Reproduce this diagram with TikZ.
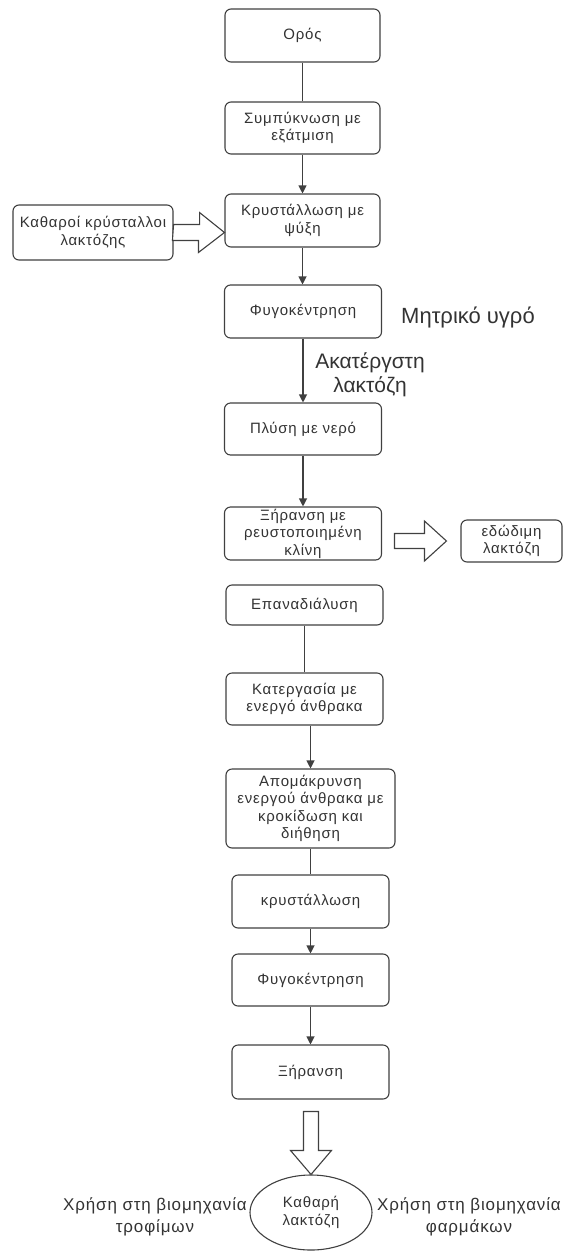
\documentclass[tikz,border=0pt]{standalone}
\usepackage{fontspec}
\setmainfont{Liberation Sans}
\newfontfamily\boxfont[LetterSpace=5]{Liberation Sans}
\usetikzlibrary{arrows.meta,calc,shapes.geometric}
\begin{document}
\begin{tikzpicture}[x=1pt,y=-1pt,
  every node/.style={text=black!80},
  stepbox/.style={draw=black!75, line width=1.1pt, rounded corners=6pt, fill=white,
    align=center, inner sep=0pt, font=\boxfont\fontsize{15}{17.5}\selectfont},
  ovalbox/.style={ellipse, draw=black!75, line width=1.1pt, fill=white,
    align=center, inner sep=0pt, font=\boxfont\fontsize{15}{17.5}\selectfont},
  lbl/.style={align=center, inner sep=0pt},
  conn/.style={draw=black!75, line width=1.1pt},
  arr/.style={conn, -{Triangle[width=8pt,length=8pt]}},
  blockarrow/.style={draw=black!75, line width=1.1pt, fill=white, line join=miter}
]
\useasboundingbox (0,0) rectangle (563,1251);

% main column
\node[stepbox, minimum width=155, minimum height=53] (oros)   at (302.5,35.5) {Ορός};
\node[stepbox, minimum width=155, minimum height=52] (symp)   at (302.5,128)  {Συμπύκνωση με\\εξάτμιση};
\node[stepbox, minimum width=155, minimum height=53] (kryst)  at (302.5,220.5) {Κρυστάλλωση με\\ψύξη};
\node[stepbox, minimum width=160, minimum height=55] (kath)   at (93,232.5)   {Καθαροί κρύσταλλοι\\λακτόζης};
\node[stepbox, minimum width=157, minimum height=53] (fyg)    at (303,311.5)  {Φυγοκέντρηση};
\node[stepbox, minimum width=157, minimum height=52] (plysi)  at (303,429)    {Πλύση με νερό};
\node[stepbox, minimum width=157, minimum height=53] (xirfl)  at (303,533.5)  {Ξήρανση με\\ρευστοποιημένη\\κλίνη};
\node[stepbox, minimum width=101, minimum height=42] (edod)   at (511.5,541)  {εδώδιμη\\λακτόζη};
\node[stepbox, minimum width=157, minimum height=40] (epan)   at (304.5,605)  {Επαναδιάλυση};
\node[stepbox, minimum width=157, minimum height=52] (kater)  at (304.5,699)  {Κατεργασία με\\ενεργό άνθρακα};
\node[stepbox, minimum width=169, minimum height=79] (apom)   at (310.5,808.5) {Απομάκρυνση\\ενεργού άνθρακα με\\κροκίδωση και\\διήθηση};
\node[stepbox, minimum width=157, minimum height=53] (kryst2) at (310.5,901.5) {κρυστάλλωση};
\node[stepbox, minimum width=157, minimum height=52] (fyg2)   at (310.5,980)  {Φυγοκέντρηση};
\node[stepbox, minimum width=157, minimum height=54] (xir2)   at (310.5,1072) {Ξήρανση};
\node[ovalbox, minimum width=122, minimum height=75] (kath2)  at (311,1212.5) {Καθαρή\\λακτόζη};

% labels
\node[lbl, font=\fontsize{22}{25}\selectfont] (mitr) at (468,317) {Μητρικό υγρό};
\node[lbl, font=\fontsize{21}{24}\selectfont] (akat) at (370,375) {Ακατέργστη\\λακτόζη};
\node[lbl, font=\boxfont\fontsize{17}{22}\selectfont] (trof) at (155,1217) {Χρήση στη βιομηχανία\\τροφίμων};
\node[lbl, font=\boxfont\fontsize{17}{22}\selectfont] (farm) at (469,1217) {Χρήση στη βιομηχανία\\φαρμάκων};

% connectors
\draw[conn] (oros.south) -- (symp.north);
\draw[arr] (symp.south) -- (kryst.north);
\draw[arr] (kryst.south) -- (fyg.north -| kryst.south);
\draw[arr] (fyg.south) -- (plysi.north);
\draw[arr] (plysi.south) -- (xirfl.north);
\draw[conn] (epan.south) -- (kater.north);
\draw[arr] (kater.south -| apom.north) -- (apom.north);
\draw[conn] (apom.south) -- (kryst2.north);
\draw[arr] (kryst2.south) -- (fyg2.north);
\draw[arr] (fyg2.south) -- (xir2.north);

% block arrows
\draw[blockarrow] (kath.east) ++(0,-8) -- ++(26,0) -- ++(0,-12)
  -- (kryst.west |- kath.east) -- ++(-26,20) -- ++(0,-12) -- ++(-26,0) -- cycle;
\coordinate (rtip) at ($(edod.west)+(-14,0)$);
\draw[blockarrow] (rtip) -- ++(-22,-20) -- ++(0,12.5) -- ++(-30,0) -- ++(0,15)
  -- ++(30,0) -- ++(0,12.5) -- cycle;
\draw[blockarrow] (kath2.north) -- ++(-20.5,-24) -- ++(13,0) -- ++(0,-39) -- ++(15,0)
  -- ++(0,39) -- ++(13,0) -- cycle;
\end{tikzpicture}
\end{document}
